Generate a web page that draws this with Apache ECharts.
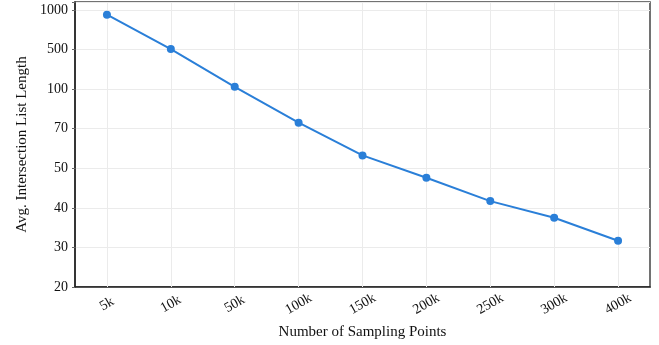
<!DOCTYPE html>
<html>
<head>
<meta charset="utf-8">
<script src="https://cdn.jsdelivr.net/npm/echarts@6/dist/echarts.min.js"></script>
<style>
  html, body { margin: 0; padding: 0; background: #fff; }
  #main { width: 659px; height: 345px; }
</style>
</head>
<body>
<div id="main"></div>
<script>
var categories = ['5k', '10k', '50k', '100k', '150k', '200k', '250k', '300k', '400k'];
var listLength = [940, 505, 123, 74.5, 56.5, 47.6, 41.7, 37.5, 31.7];
var yTicks = [20, 30, 40, 50, 70, 100, 500, 1000];

// the y axis puts its ticks at equal steps, values between are placed linearly
function toPos(v) {
    for (var i = 0; i < yTicks.length - 1; i++) {
        if (v <= yTicks[i + 1]) {
            return i + (v - yTicks[i]) / (yTicks[i + 1] - yTicks[i]);
        }
    }
    return yTicks.length - 1;
}

function drawChart() {
    var myChart = echarts.init(document.getElementById('main'));
    var font = 'Liberation Serif';
    var option = {
        animation: false,
        grid: {
            left: 75, right: 9, top: 2, bottom: 57,
            show: true, borderColor: '#444', borderWidth: 1.5
        },
        xAxis: {
            type: 'category',
            data: categories,
            boundaryGap: true,
            name: 'Number of Sampling Points',
            nameLocation: 'middle',
            nameGap: 38,
            nameTextStyle: { fontFamily: font, fontSize: 15, color: '#111' },
            axisLine: { lineStyle: { color: '#222', width: 1.5 } },
            axisTick: { alignWithLabel: true, length: 3, lineStyle: { color: '#666' } },
            axisLabel: {
                rotate: 30, fontFamily: font, fontSize: 14, color: '#111',
                margin: 17, align: 'center', verticalAlign: 'middle'
            },
            splitLine: { show: false }
        },
        yAxis: {
            type: 'value',
            min: 0,
            max: 7.2,
            interval: 1,
            name: 'Avg. Intersection List Length',
            nameLocation: 'middle',
            nameGap: 44,
            nameTextStyle: { fontFamily: font, fontSize: 15, color: '#111' },
            axisLine: { show: true, lineStyle: { color: '#222', width: 1.5 } },
            axisTick: { show: true, length: 3, lineStyle: { color: '#666' } },
            axisLabel: {
                fontFamily: font, fontSize: 14, color: '#111', margin: 7,
                formatter: function (v) {
                    return Number.isInteger(v) ? String(yTicks[v]) : '';
                }
            },
            splitLine: { show: true, lineStyle: { color: '#ebebeb', width: 1 } }
        },
        series: [{
            // vertical grid lines at the category centres
            type: 'line',
            data: [],
            z: 1,
            silent: true,
            markLine: {
                z: 1,
                silent: true,
                symbol: 'none',
                label: { show: false },
                lineStyle: { color: '#ebebeb', width: 1, type: 'solid' },
                data: categories.map(function (c) { return { xAxis: c }; })
            }
        }, {
            type: 'line',
            data: listLength.map(toPos),
            z: 3,
            symbol: 'circle',
            symbolSize: 8,
            itemStyle: { color: '#2a7fd8' },
            lineStyle: { color: '#2a7fd8', width: 2 }
        }]
    };
    myChart.setOption(option);
}

document.addEventListener('DOMContentLoaded', function () {
    drawChart();
});
</script>
</body>
</html>
